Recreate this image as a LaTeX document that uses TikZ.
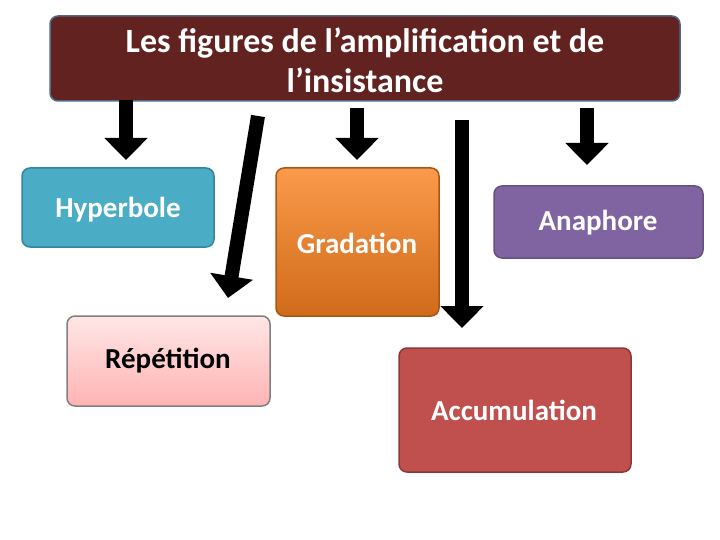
\documentclass[tikz,border=0pt]{standalone}
\usepackage{fontspec}
\setmainfont{Carlito}
\usetikzlibrary{arrows.meta}
\definecolor{titlered}{HTML}{62221F}
\definecolor{titleedge}{HTML}{4F6A8A}
\definecolor{hyp}{HTML}{4BACC6}
\definecolor{hypedge}{HTML}{31859C}
\definecolor{gradA}{HTML}{FA9A4A}
\definecolor{gradB}{HTML}{D06B1A}
\definecolor{ana}{HTML}{8064A2}
\definecolor{rep1}{HTML}{FFE6E6}
\definecolor{rep2}{HTML}{FFB3B3}
\definecolor{acc}{HTML}{C0504D}
\definecolor{accedge}{HTML}{8C3836}
\tikzset{
  box/.style={rounded corners=8pt, line width=1.5pt},
  lbl/.style={text=white, font=\fontsize{29}{34}\selectfont\bfseries},
  blockarrow/.style={line width=14pt, -{Triangle[width=42pt,length=22pt]}, black}
}
\begin{document}
\begin{tikzpicture}[x=1pt,y=-1pt]
\useasboundingbox (0,0) rectangle (720,540);
\node[box, draw=titleedge, fill=titlered, minimum width=630pt, minimum height=85pt] (title) at (365,58.5) {};
\node[align=center, text=white, font=\fontsize{34}{40}\selectfont\bfseries] (titlet) at (365,60) {Les figures de l’amplification et de\\ l’insistance};
\node[box, draw=hypedge, fill=hyp, minimum width=192pt, minimum height=79pt] (hyp) at (118,207.5) {};
\node[lbl] (hypt) at (118,210) {Hyperbole};
\node[box, draw=gradB!80!black, top color=gradA, bottom color=gradB, minimum width=163pt, minimum height=148pt] (grad) at (357.5,242) {};
\node[lbl] (gradt) at (357,243) {Gradation};
\node[box, draw=ana!80!black, fill=ana, minimum width=209pt, minimum height=72pt] (ana) at (598.5,222) {};
\node[lbl] (anat) at (598,223) {Anaphore};
\node[box, draw=gray, top color=rep1, bottom color=rep2, minimum width=203pt, minimum height=90pt] (rep) at (168.5,361) {};
\node[lbl, text=black] (rept) at (168,361) {Répétition};
\node[box, draw=accedge, fill=acc, minimum width=232pt, minimum height=124pt] (acc) at (515,410) {};
\node[lbl] (acct) at (514,410) {Accumulation};
\coordinate (a1s) at (126,100); \coordinate (a1e) at (126,160);
\coordinate (a2s) at (258,116); \coordinate (a2e) at (228,298);
\coordinate (a3s) at (357,108); \coordinate (a3e) at (357,160);
\coordinate (a4s) at (462,120); \coordinate (a4e) at (462,328);
\coordinate (a5s) at (587,108); \coordinate (a5e) at (587,165);
\draw[blockarrow] (a1s) -- (a1e);
\draw[blockarrow] (a2s) -- (a2e);
\draw[blockarrow] (a3s) -- (a3e);
\draw[blockarrow] (a4s) -- (a4e);
\draw[blockarrow] (a5s) -- (a5e);
\end{tikzpicture}
\end{document}
